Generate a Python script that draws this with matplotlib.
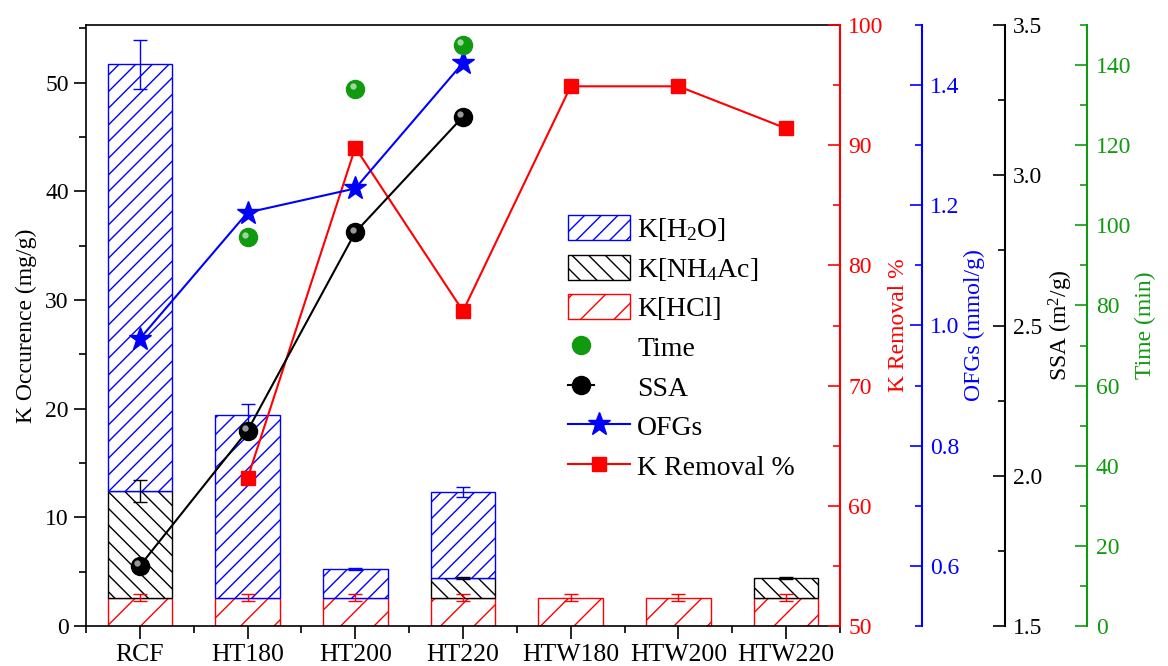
import numpy as np
import matplotlib
matplotlib.use("Agg")
import matplotlib.pyplot as plt
from matplotlib.lines import Line2D
from matplotlib.patches import Patch
from matplotlib.legend_handler import HandlerTuple
from matplotlib.ticker import MultipleLocator, FormatStrFormatter
import matplotlib.transforms as mtransforms

plt.rcParams['font.family'] = ['Liberation Serif', 'DejaVu Serif']
plt.rcParams['mathtext.fontset'] = 'custom'
plt.rcParams['mathtext.rm'] = 'Liberation Serif'
plt.rcParams['mathtext.it'] = 'Liberation Serif:italic'
plt.rcParams['hatch.linewidth'] = 1.0

# ---- data ----
categories = ["RCF", "HT180", "HT200", "HT220", "HTW180", "HTW200", "HTW220"]

k_hcl = [2.6, 2.6, 2.6, 2.6, 2.6, 2.6, 2.6]
k_hcl_err = [0.3, 0.3, 0.3, 0.3, 0.3, 0.3, 0.3]
k_nh4ac = [9.8, 0.0, 0.0, 1.85, 0.0, 0.0, 1.85]
k_nh4ac_err = [1.0, 0.0, 0.0, 0.1, 0.0, 0.0, 0.1]
k_h2o = [39.3, 16.85, 2.65, 7.85, 0.0, 0.0, 0.0]
k_h2o_err = [2.25, 0.95, 0.1, 0.45, 0.0, 0.0, 0.0]

removal_cats = ["HT180", "HT200", "HT220", "HTW180", "HTW200", "HTW220"]
k_removal = [62.3, 89.8, 76.2, 94.9, 94.9, 91.4]

ofg_cats = ["RCF", "HT180", "HT200", "HT220"]
ofgs = [0.978, 1.188, 1.228, 1.437]

ssa_cats = ["RCF", "HT180", "HT200", "HT220"]
ssa = [1.70, 2.15, 2.81, 3.195]

time_cats = ["HT180", "HT200", "HT220"]
time_min = [97, 134, 145]

# ---- figure ----
fig = plt.figure(figsize=(11.68, 6.66), dpi=100)
ax = fig.add_axes([86 / 1168, 40 / 666, (840 - 86) / 1168, (626 - 25) / 666])

x = np.arange(len(categories))
pos = {c: i for i, c in enumerate(categories)}
width = 0.6

hcl = np.array(k_hcl)
nh4 = np.array(k_nh4ac)
h2o = np.array(k_h2o)

ax.bar(x, hcl, width, color='white', edgecolor='red', hatch='/', linewidth=1.0, zorder=2)
ax.errorbar(x, hcl, yerr=k_hcl_err, fmt='none', ecolor='red', elinewidth=1, capsize=5, zorder=3)

m = nh4 > 0
ax.bar(x[m], nh4[m], width, bottom=hcl[m], color='white', edgecolor='black',
       hatch='\\\\', linewidth=1.0, zorder=2)
ax.errorbar(x[m], (hcl + nh4)[m], yerr=np.array(k_nh4ac_err)[m], fmt='none',
            ecolor='black', elinewidth=1, capsize=5, zorder=3)

m = h2o > 0
ax.bar(x[m], h2o[m], width, bottom=(hcl + nh4)[m], color='white', edgecolor='blue',
       hatch='//', linewidth=1.0, zorder=2)
ax.errorbar(x[m], (hcl + nh4 + h2o)[m], yerr=np.array(k_h2o_err)[m], fmt='none',
            ecolor='blue', elinewidth=1, capsize=5, zorder=3)

ax.set_xlim(-0.5, len(categories) - 0.5)
ax.set_ylim(0, 55.3)
ax.set_xticks(x)
ax.set_xticklabels(categories)
ax.xaxis.set_minor_locator(MultipleLocator(1, offset=0.5))
ax.yaxis.set_major_locator(MultipleLocator(10))
ax.yaxis.set_minor_locator(MultipleLocator(5))
ax.tick_params(axis='both', which='major', direction='out', length=9, width=1.2, labelsize=17)
ax.tick_params(axis='x', which='major', labelsize=18.5, pad=4)
ax.tick_params(axis='both', which='minor', direction='out', length=5, width=1.2)
ax.spines['right'].set_visible(False)
for s in ['left', 'bottom', 'top']:
    ax.spines[s].set_linewidth(1.2)
ax.set_ylabel("K Occurence (mg/g)", fontsize=17, labelpad=6)

green = '#109a10'


def right_axis(offset, color, lim, major, minor, label):
    a = ax.twinx()
    a.spines['right'].set_position(('axes', offset))
    a.spines['right'].set_color(color)
    a.spines['right'].set_linewidth(1.5)
    for s in ['left', 'top', 'bottom']:
        a.spines[s].set_visible(False)
    a.set_ylim(*lim)
    a.yaxis.set_major_locator(MultipleLocator(major))
    a.yaxis.set_minor_locator(MultipleLocator(minor))
    a.tick_params(axis='y', which='major', direction='in', length=9, width=1.2,
                  color=color, labelcolor=color, labelsize=17, pad=6)
    a.tick_params(axis='y', which='minor', direction='in', length=5, width=1.2, color=color)
    a.set_ylabel(label, color=color, fontsize=17, labelpad=3)
    return a


ax_rem = right_axis(1.0, 'red', (50, 100), 10, 5, "K Removal %")
ax_ofg = right_axis(1.1086, 'blue', (0.5, 1.5), 0.2, 0.1, "OFGs (mmol/g)")
ax_ssa = right_axis(1.2185, 'black', (1.5, 3.5), 0.5, 0.25, "SSA (m$^2$/g)")
ax_time = right_axis(1.328, green, (0, 150), 20, 10, "Time (min)")
ax_ofg.yaxis.set_major_formatter(FormatStrFormatter('%.1f'))
ax_ssa.yaxis.set_major_formatter(FormatStrFormatter('%.1f'))


def sphere(a, xs, ys, color, size, z):
    a.plot(xs, ys, linestyle='none', marker='o', markersize=size, color=color,
           markeredgecolor=color, zorder=z)
    tr = mtransforms.offset_copy(a.transData, fig=fig, x=-2.0, y=2.0, units='points')
    a.plot(xs, ys, linestyle='none', marker='o', markersize=size * 0.35, color='white',
           alpha=0.6, markeredgewidth=0, transform=tr, zorder=z + 0.1)


xr = [pos[c] for c in removal_cats]
ax_rem.plot(xr, k_removal, color='red', lw=1.5, marker='s', markersize=10,
            markeredgecolor='red', zorder=5)

xo = [pos[c] for c in ofg_cats]
ax_ofg.plot(xo, ofgs, color='blue', lw=1.5, marker='*', markersize=17,
            markeredgecolor='blue', zorder=5)

xs = [pos[c] for c in ssa_cats]
ax_ssa.plot(xs, ssa, color='black', lw=1.5, zorder=4)
sphere(ax_ssa, xs, ssa, 'black', 13, 5)

xt = [pos[c] for c in time_cats]
sphere(ax_time, xt, time_min, green, 13, 5)

# legend
h_h2o = Patch(facecolor='white', edgecolor='blue', hatch='//', linewidth=1.0)
h_nh4 = Patch(facecolor='white', edgecolor='black', hatch='\\\\', linewidth=1.0)
h_hcl = Patch(facecolor='white', edgecolor='red', hatch='/', linewidth=1.0)
h_time = (Line2D([], [], ls='none', marker='o', markersize=13, color=green),
          Line2D([], [], ls='none', marker='o', markersize=4.5, color='white', alpha=0.6,
                 markeredgewidth=0))
h_ssa = (Line2D([], [], color='black', lw=1.5, marker='o', markersize=13),
         Line2D([], [], ls='none', marker='o', markersize=4.5, color='white', alpha=0.6,
                markeredgewidth=0))
h_ofg = Line2D([], [], color='blue', lw=1.5, marker='*', markersize=17)
h_rem = Line2D([], [], color='red', lw=1.5, marker='s', markersize=10)

leg = ax_time.legend([h_h2o, h_nh4, h_hcl, h_time, h_ssa, h_ofg, h_rem],
                     ["K[H$_2$O]", "K[NH$_4$Ac]", "K[HCl]", "Time", "SSA", "OFGs", "K Removal %"],
                     handler_map={tuple: HandlerTuple(ndivide=None)},
                     loc='upper left', bbox_to_anchor=(0.606, 0.725), bbox_transform=ax.transAxes,
                     frameon=False, fontsize=20, handlelength=2.25, handleheight=1.0,
                     labelspacing=0.42, handletextpad=0.25)

fig.savefig("out.png", dpi=100)
